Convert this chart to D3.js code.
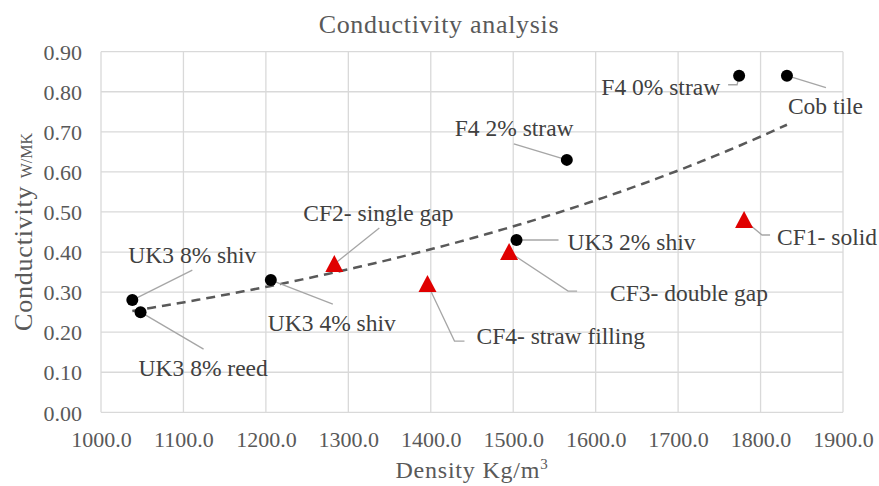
<!DOCTYPE html>
<html>
<head>
<meta charset="utf-8">
<script src="https://cdn.jsdelivr.net/npm/d3@7/dist/d3.min.js"></script>
<style>
  body { margin: 0; background: #fff; }
  svg text { font-family: 'Liberation Serif', 'Times New Roman', Tinos, 'DejaVu Serif', 'Noto Serif', serif; }
</style>
</head>
<body>
<svg id="chart" width="879" height="486"></svg>
<script>
// ---- Data ----
const sampleNames = ["UK3 8% shiv", "UK3 8% reed", "UK3 4% shiv", "UK3 2% shiv", "F4 2% straw", "F4 0% straw", "Cob tile"];
const sampleDensity = [1038, 1048, 1206, 1504, 1565, 1774, 1832];
const sampleConductivity = [0.28, 0.25, 0.33, 0.43, 0.63, 0.84, 0.84];

const panelNames = ["CF2- single gap", "CF4- straw filling", "CF3- double gap", "CF1- solid"];
const panelDensity = [1283, 1396, 1495, 1780];
const panelConductivity = [0.37, 0.32, 0.40, 0.48];

const xTicks = [1000, 1100, 1200, 1300, 1400, 1500, 1600, 1700, 1800, 1900];
const yTicks = [0, 0.1, 0.2, 0.3, 0.4, 0.5, 0.6, 0.7, 0.8, 0.9];

// ---- Label layout (pixel offsets from the marker: text anchor, leader path) ----
const sampleLabelLayout = [
  { dx: -4, dy: -45, anchor: "start", path: [[60, -30]] },
  { dx: -2, dy: 56, anchor: "start", path: [[63, 37]] },
  { dx: -3, dy: 43, anchor: "start", path: [[62, 24]] },
  { dx: 51, dy: 2, anchor: "start", path: [[42, 0]] },
  { dx: -112, dy: -32, anchor: "start", path: [[-53, -16]] },
  { dx: -19, dy: 11, anchor: "end", path: [[-2, 9], [-11, 9]] },
  { dx: 1, dy: 30, anchor: "start", path: [[39, 12]] }
];
const panelLabelLayout = [
  { dx: -31, dy: -51, anchor: "start", path: [[45, -36]] },
  { dx: 49, dy: 52, anchor: "start", path: [[27, 57], [37, 57]] },
  { dx: 101, dy: 41, anchor: "start", path: [[59, 39], [68, 39]] },
  { dx: 33, dy: 17, anchor: "start", path: [[18, 15], [26, 15]] }
];

// ---- Setup ----
const svg = d3.select("#chart");
const plot = { left: 101, right: 843, top: 51.7, bottom: 412.3 };
const textColor = "#595959";
const gridColor = "#d9d9d9";
const leaderColor = "#a6a6a6";
const serif = "'Liberation Serif', 'Times New Roman', Tinos, 'DejaVu Serif', 'Noto Serif', serif";

const x = d3.scaleLinear().domain([1000, 1900]).range([plot.left, plot.right]);
const y = d3.scaleLinear().domain([0, 0.9]).range([plot.bottom, plot.top]);

// Gridlines
const g = svg.append("g");
g.selectAll("line.vg").data(xTicks).enter().append("line")
  .attr("x1", d => x(d)).attr("x2", d => x(d))
  .attr("y1", plot.top).attr("y2", plot.bottom)
  .attr("stroke", gridColor).attr("stroke-width", 1.3);
g.selectAll("line.hg").data(yTicks).enter().append("line")
  .attr("x1", plot.left).attr("x2", plot.right)
  .attr("y1", d => y(d)).attr("y2", d => y(d))
  .attr("stroke", gridColor).attr("stroke-width", 1.3);

// Axes (tick labels)
const xAxis = d3.axisBottom(x).tickValues(xTicks).tickFormat(d3.format(".1f")).tickSize(0).tickPadding(0);
const xg = svg.append("g").attr("transform", `translate(0,${plot.bottom})`).call(xAxis)
  .attr("font-family", null).attr("font-size", null);
xg.select(".domain").remove();
xg.selectAll("text").attr("fill", textColor).style("font-size", "22px")
  .style("font-family", serif).attr("y", 35).attr("dy", 0);

const yAxis = d3.axisLeft(y).tickValues(yTicks).tickFormat(d3.format(".2f")).tickSize(0).tickPadding(0);
const yg = svg.append("g").attr("transform", `translate(${plot.left},0)`).call(yAxis)
  .attr("font-family", null).attr("font-size", null);
yg.select(".domain").remove();
yg.selectAll("text").attr("fill", textColor).style("font-size", "22px")
  .style("font-family", serif).attr("x", -19).attr("dy", "0.35em");

// Title
svg.append("text").attr("x", 439).attr("y", 33).attr("text-anchor", "middle")
  .attr("fill", textColor).style("font-size", "26px").attr("letter-spacing", 0.7)
  .style("font-family", serif)
  .text("Conductivity analysis");

// X axis title
const xt = svg.append("text").attr("x", 472).attr("y", 478).attr("text-anchor", "middle")
  .attr("fill", textColor).style("font-size", "24px").attr("letter-spacing", 0.8)
  .style("font-family", serif);
xt.append("tspan").text("Density Kg/m");
xt.append("tspan").style("font-size", "15px").attr("dy", -9).text("3");

// Y axis title
const yt = svg.append("text").attr("transform", `translate(32,${(plot.top + plot.bottom) / 2}) rotate(-90)`)
  .attr("text-anchor", "middle").attr("fill", textColor).style("font-family", serif);
yt.append("tspan").style("font-size", "26px").attr("letter-spacing", 0.8).text("Conductivity ");
yt.append("tspan").style("font-size", "16px").text("W/MK");

// Exponential trendline fitted over all points (least squares on ln y)
const allX = sampleDensity.concat(panelDensity);
const allY = sampleConductivity.concat(panelConductivity);
const n = allX.length;
const mx = d3.mean(allX);
const ly = allY.map(v => Math.log(v));
const my = d3.mean(ly);
let sxy = 0, sxx = 0;
for (let i = 0; i < n; i++) { sxy += (allX[i] - mx) * (ly[i] - my); sxx += (allX[i] - mx) ** 2; }
const b = sxy / sxx;
const a = Math.exp(my - b * mx);
const xmin = d3.min(allX), xmax = d3.max(allX);
const trendX = d3.range(0, 101).map(i => xmin + (xmax - xmin) * i / 100);
svg.append("path")
  .attr("d", d3.line().x(d => x(d)).y(d => y(a * Math.exp(b * d)))(trendX))
  .attr("fill", "none").attr("stroke", "#595959").attr("stroke-width", 2.5)
  .attr("stroke-dasharray", "9,6");

// Leader lines + labels
function drawLabels(names, xs, ys, layout) {
  names.forEach((name, i) => {
    const px = x(xs[i]), py = y(ys[i]);
    const L = layout[i];
    const pts = [[px, py]].concat(L.path.map(p => [px + p[0], py + p[1]]));
    svg.append("path").attr("d", d3.line()(pts)).attr("fill", "none")
      .attr("stroke", leaderColor).attr("stroke-width", 1.3);
    svg.append("text").attr("x", px + L.dx).attr("y", py + L.dy).attr("dy", "0.35em")
      .attr("text-anchor", L.anchor).attr("fill", "#404040").style("font-size", "23.5px")
      .style("font-family", serif)
      .text(name);
  });
}
drawLabels(sampleNames, sampleDensity, sampleConductivity, sampleLabelLayout);
drawLabels(panelNames, panelDensity, panelConductivity, panelLabelLayout);

// Markers
svg.selectAll("circle.s").data(sampleDensity).enter().append("circle")
  .attr("cx", d => x(d)).attr("cy", (d, i) => y(sampleConductivity[i]))
  .attr("r", 6).attr("fill", "#000");
svg.selectAll("path.p").data(panelDensity).enter().append("path")
  .attr("transform", (d, i) => `translate(${x(d)},${y(panelConductivity[i])})`)
  .attr("d", "M0,-9 L9,8 L-9,8 Z").attr("fill", "#e00000");
</script>
</body>
</html>
